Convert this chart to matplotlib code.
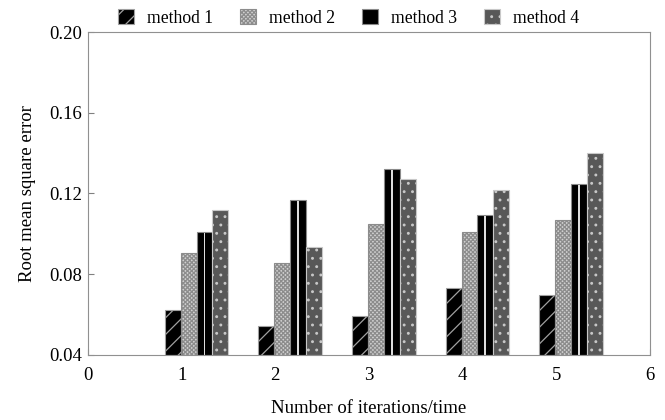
import matplotlib
matplotlib.use('Agg')
import matplotlib.pyplot as plt
import numpy as np

plt.rcParams['font.family'] = ['Liberation Serif', 'DejaVu Serif']
plt.rcParams['hatch.linewidth'] = 0.9

iterations = [1, 2, 3, 4, 5]
method1 = [0.0623, 0.0544, 0.0593, 0.0732, 0.0697]
method2 = [0.0905, 0.0856, 0.1049, 0.1009, 0.1069]
method3 = [0.1009, 0.1168, 0.1321, 0.1094, 0.1247]
method4 = [0.1118, 0.0935, 0.1272, 0.1217, 0.1400]
labels = ['method 1', 'method 2', 'method 3', 'method 4']

x = np.array(iterations, dtype=float)
w = 0.17
base = 0.04

fig = plt.figure(figsize=(6.65, 4.2), dpi=100)
ax = fig.add_axes([0.1323, 0.1548, 0.8447, 0.769])

b1 = ax.bar(x - 0.18 + w/2, np.array(method1) - base, w, bottom=base,
            color='black', edgecolor='#a0a0a0', hatch='//', linewidth=0.8, label=labels[0])
b2 = ax.bar(x - 0.18 + 1.5*w, np.array(method2) - base, w, bottom=base,
            color='#d0d0d0', edgecolor='#8c8c8c', hatch='xxxxxxxx', linewidth=0.8, label=labels[1])
b3 = ax.bar(x - 0.18 + 2.5*w, np.array(method3) - base, w, bottom=base,
            color='black', edgecolor='#8a8a8a', linewidth=0.8, label=labels[2])
# white stripe in the middle of method 3 bars
ax.bar(x - 0.18 + 2.5*w, np.array(method3) - base - 0.0005, 0.02, bottom=base,
       color='#dddddd', linewidth=0)
b4 = ax.bar(x - 0.18 + 3.5*w, np.array(method4) - base, w, bottom=base,
            color='#585858', edgecolor='#c8c8c8', hatch='..', linewidth=0.8, label=labels[3])

ax.set_xlim(0, 6)
ax.set_ylim(0.04, 0.20)
ax.set_xticks([0, 1, 2, 3, 4, 5, 6])
ax.set_yticks([0.04, 0.08, 0.12, 0.16, 0.20])
ax.set_yticklabels(['0.04', '0.08', '0.12', '0.16', '0.20'])
ax.tick_params(labelsize=13.5, color='#808080', length=4, direction='in')
ax.tick_params(axis='x', pad=9)
ax.tick_params(axis='y', pad=4)
for s in ax.spines.values():
    s.set_color('#909090')

ax.set_xlabel('Number of iterations/time', fontsize=13.5, labelpad=11)
ax.set_ylabel('Root mean square error', fontsize=13.5, labelpad=10)

ax.legend(loc='lower center', bbox_to_anchor=(0.464, 0.995), ncol=4, frameon=False,
          fontsize=12.7, handlelength=0.9, handleheight=0.9, columnspacing=1.53,
          handletextpad=0.75, borderaxespad=0.0)

fig.savefig('out.png', dpi=100)
